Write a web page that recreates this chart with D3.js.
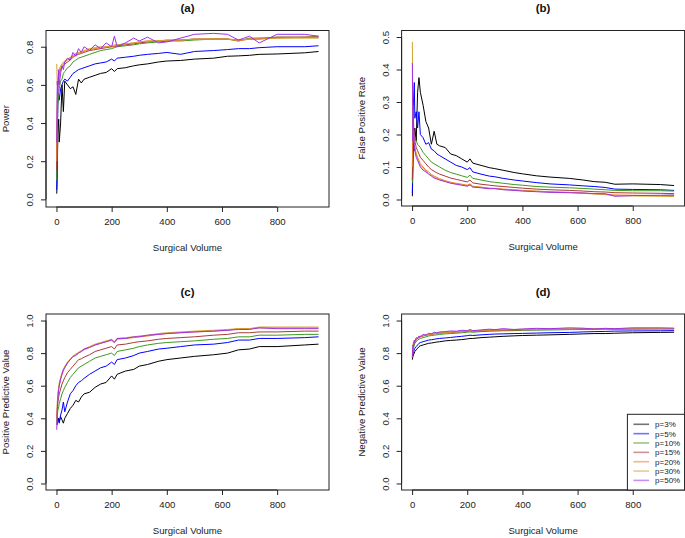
<!DOCTYPE html>
<html>
<head>
<meta charset="utf-8">
<script src="https://cdn.jsdelivr.net/npm/d3@7/dist/d3.min.js"></script>
<style>
html,body{margin:0;padding:0;background:#fff;}
svg{display:block;font-family:"Liberation Sans",Arial,sans-serif;}
</style>
</head>
<body>
<svg id="chart" width="685" height="538"></svg>
<script>
const prevalence = ["p=3%","p=5%","p=10%","p=15%","p=20%","p=30%","p=50%"];
const seriesColors = ["#000000","#0000FF","#3C9A1E","#A83A3A","#F07828","#D4A030","#A030E8"];
const volume = [1,3,5,8,10,15,20,25,30,40,50,60,70,80,90,100,120,140,160,180,200,210,220,250,280,300,330,370,400,450,500,570,620,660,700,735,800,900,950];
const xTicks = [0,200,400,600,800];

const power = [
 [0.03,0.15,0.35,0.42,0.30,0.40,0.60,0.46,0.62,0.60,0.58,0.59,0.55,0.63,0.61,0.63,0.64,0.65,0.66,0.665,0.685,0.67,0.685,0.69,0.70,0.705,0.71,0.72,0.725,0.728,0.735,0.74,0.75,0.752,0.755,0.76,0.762,0.768,0.775],
 [0.05,0.30,0.50,0.55,0.52,0.58,0.60,0.62,0.63,0.62,0.64,0.66,0.67,0.68,0.685,0.69,0.70,0.71,0.715,0.72,0.735,0.725,0.74,0.745,0.75,0.755,0.76,0.765,0.77,0.76,0.775,0.78,0.785,0.79,0.79,0.795,0.80,0.80,0.805],
 [0.10,0.40,0.50,0.55,0.58,0.62,0.63,0.66,0.67,0.69,0.70,0.72,0.73,0.74,0.745,0.75,0.76,0.77,0.78,0.785,0.79,0.795,0.80,0.805,0.81,0.815,0.82,0.825,0.83,0.83,0.835,0.84,0.84,0.83,0.845,0.845,0.85,0.85,0.855],
 [0.15,0.50,0.60,0.64,0.66,0.68,0.69,0.70,0.71,0.72,0.73,0.745,0.755,0.76,0.765,0.77,0.78,0.785,0.79,0.795,0.80,0.80,0.805,0.81,0.815,0.82,0.825,0.83,0.83,0.835,0.84,0.84,0.84,0.835,0.84,0.84,0.85,0.85,0.85],
 [0.20,0.55,0.62,0.65,0.67,0.69,0.70,0.71,0.72,0.73,0.74,0.75,0.76,0.765,0.77,0.775,0.785,0.79,0.795,0.80,0.80,0.805,0.81,0.815,0.82,0.825,0.83,0.83,0.835,0.835,0.84,0.84,0.84,0.83,0.84,0.845,0.845,0.85,0.85],
 [0.71,0.60,0.64,0.66,0.68,0.70,0.71,0.72,0.725,0.735,0.745,0.755,0.765,0.77,0.775,0.78,0.79,0.795,0.80,0.80,0.805,0.81,0.81,0.815,0.82,0.825,0.83,0.83,0.835,0.835,0.84,0.84,0.84,0.835,0.84,0.84,0.845,0.845,0.845],
 [0.30,0.62,0.55,0.68,0.60,0.66,0.70,0.68,0.72,0.74,0.73,0.77,0.75,0.79,0.77,0.80,0.78,0.81,0.79,0.82,0.80,0.855,0.80,0.82,0.845,0.83,0.85,0.82,0.825,0.845,0.865,0.87,0.865,0.835,0.855,0.82,0.865,0.865,0.855]
];

const falsePositive = [
 [0.01,0.10,0.20,0.15,0.22,0.18,0.33,0.375,0.33,0.29,0.24,0.22,0.17,0.21,0.17,0.165,0.16,0.14,0.135,0.125,0.115,0.125,0.112,0.105,0.098,0.095,0.09,0.083,0.079,0.073,0.069,0.065,0.06,0.055,0.053,0.047,0.048,0.046,0.043],
 [0.02,0.15,0.30,0.36,0.25,0.27,0.22,0.27,0.20,0.19,0.17,0.175,0.155,0.15,0.14,0.135,0.125,0.115,0.105,0.10,0.092,0.098,0.085,0.078,0.072,0.07,0.065,0.06,0.057,0.052,0.048,0.045,0.042,0.04,0.037,0.032,0.031,0.03,0.028],
 [0.05,0.20,0.21,0.20,0.19,0.18,0.17,0.165,0.16,0.145,0.135,0.125,0.115,0.11,0.105,0.10,0.09,0.083,0.078,0.073,0.068,0.075,0.065,0.06,0.055,0.053,0.05,0.046,0.044,0.04,0.038,0.036,0.034,0.032,0.03,0.028,0.027,0.027,0.026],
 [0.06,0.29,0.22,0.20,0.18,0.16,0.15,0.14,0.13,0.12,0.11,0.10,0.092,0.087,0.082,0.078,0.072,0.066,0.062,0.058,0.054,0.06,0.051,0.047,0.044,0.042,0.04,0.037,0.035,0.032,0.03,0.028,0.026,0.024,0.023,0.021,0.02,0.019,0.018],
 [0.10,0.22,0.20,0.18,0.16,0.14,0.13,0.12,0.11,0.10,0.09,0.085,0.077,0.072,0.068,0.064,0.058,0.053,0.05,0.047,0.044,0.048,0.041,0.038,0.035,0.034,0.032,0.03,0.028,0.026,0.024,0.022,0.02,0.018,0.016,0.014,0.013,0.012,0.012],
 [0.485,0.20,0.21,0.18,0.16,0.14,0.125,0.115,0.105,0.095,0.088,0.08,0.074,0.069,0.065,0.061,0.056,0.051,0.048,0.045,0.042,0.046,0.04,0.037,0.034,0.033,0.031,0.029,0.027,0.025,0.023,0.021,0.019,0.017,0.015,0.012,0.011,0.01,0.009],
 [0.42,0.18,0.25,0.17,0.15,0.13,0.12,0.11,0.10,0.09,0.085,0.078,0.072,0.066,0.063,0.06,0.055,0.05,0.047,0.044,0.041,0.045,0.038,0.036,0.033,0.034,0.03,0.028,0.026,0.024,0.022,0.021,0.02,0.018,0.018,0.01,0.012,0.013,0.014]
];

const ppv = [
 [0.42,0.40,0.38,0.40,0.38,0.41,0.39,0.37,0.40,0.43,0.46,0.48,0.51,0.50,0.53,0.55,0.56,0.59,0.61,0.62,0.66,0.64,0.67,0.69,0.70,0.72,0.73,0.75,0.76,0.77,0.78,0.79,0.80,0.82,0.825,0.84,0.84,0.85,0.855],
 [0.38,0.36,0.40,0.38,0.37,0.42,0.45,0.50,0.44,0.50,0.55,0.57,0.60,0.62,0.63,0.645,0.67,0.69,0.71,0.72,0.745,0.73,0.76,0.77,0.785,0.80,0.81,0.825,0.83,0.84,0.85,0.855,0.865,0.88,0.88,0.89,0.89,0.895,0.90],
 [0.38,0.42,0.45,0.47,0.49,0.52,0.55,0.57,0.59,0.62,0.65,0.67,0.69,0.71,0.72,0.73,0.75,0.77,0.78,0.79,0.80,0.785,0.81,0.82,0.83,0.84,0.85,0.86,0.865,0.87,0.875,0.885,0.89,0.90,0.90,0.91,0.91,0.915,0.915],
 [0.40,0.45,0.50,0.53,0.55,0.58,0.61,0.63,0.65,0.68,0.70,0.72,0.74,0.76,0.765,0.775,0.79,0.81,0.82,0.83,0.84,0.825,0.85,0.855,0.865,0.87,0.875,0.885,0.89,0.895,0.90,0.91,0.915,0.925,0.925,0.93,0.93,0.935,0.935],
 [0.40,0.48,0.54,0.58,0.60,0.64,0.67,0.69,0.71,0.74,0.76,0.78,0.79,0.80,0.81,0.82,0.835,0.85,0.86,0.87,0.88,0.865,0.885,0.89,0.895,0.90,0.905,0.915,0.92,0.925,0.93,0.935,0.94,0.95,0.95,0.955,0.955,0.955,0.955],
 [0.36,0.50,0.55,0.59,0.62,0.65,0.68,0.70,0.72,0.745,0.765,0.78,0.795,0.805,0.815,0.825,0.84,0.855,0.865,0.875,0.885,0.87,0.89,0.895,0.90,0.905,0.91,0.92,0.925,0.93,0.935,0.94,0.945,0.95,0.95,0.96,0.96,0.96,0.96],
 [0.33,0.45,0.52,0.58,0.60,0.64,0.67,0.70,0.71,0.74,0.76,0.78,0.785,0.80,0.81,0.825,0.835,0.85,0.86,0.87,0.88,0.865,0.89,0.89,0.90,0.90,0.91,0.915,0.92,0.925,0.93,0.935,0.94,0.945,0.945,0.955,0.95,0.95,0.95]
];

const npv = [
 [0.76,0.78,0.79,0.80,0.81,0.82,0.83,0.84,0.845,0.85,0.855,0.86,0.862,0.865,0.868,0.87,0.875,0.878,0.88,0.883,0.887,0.89,0.89,0.895,0.898,0.90,0.903,0.906,0.908,0.91,0.912,0.915,0.918,0.92,0.92,0.922,0.925,0.927,0.928],
 [0.77,0.79,0.81,0.82,0.83,0.84,0.85,0.86,0.865,0.87,0.875,0.88,0.882,0.885,0.888,0.89,0.893,0.896,0.90,0.903,0.907,0.91,0.908,0.912,0.915,0.917,0.918,0.92,0.921,0.923,0.925,0.927,0.93,0.932,0.933,0.935,0.936,0.937,0.938],
 [0.78,0.81,0.83,0.85,0.86,0.87,0.88,0.885,0.89,0.895,0.90,0.905,0.908,0.91,0.912,0.915,0.918,0.92,0.922,0.925,0.928,0.93,0.928,0.932,0.934,0.935,0.937,0.938,0.94,0.941,0.942,0.944,0.945,0.946,0.946,0.947,0.947,0.948,0.948],
 [0.77,0.82,0.85,0.86,0.87,0.88,0.89,0.895,0.90,0.905,0.91,0.912,0.915,0.918,0.92,0.922,0.925,0.927,0.929,0.931,0.933,0.935,0.933,0.937,0.939,0.94,0.941,0.942,0.943,0.944,0.945,0.946,0.947,0.947,0.946,0.948,0.95,0.95,0.95],
 [0.78,0.83,0.86,0.87,0.875,0.885,0.893,0.898,0.902,0.907,0.912,0.914,0.917,0.92,0.922,0.924,0.927,0.929,0.931,0.933,0.935,0.937,0.935,0.939,0.941,0.942,0.943,0.944,0.945,0.946,0.947,0.948,0.949,0.948,0.947,0.949,0.951,0.951,0.951],
 [0.79,0.84,0.865,0.875,0.88,0.888,0.895,0.90,0.904,0.909,0.913,0.916,0.919,0.921,0.923,0.925,0.928,0.93,0.932,0.934,0.936,0.938,0.936,0.94,0.942,0.943,0.944,0.945,0.946,0.947,0.948,0.949,0.95,0.95,0.948,0.95,0.952,0.952,0.952],
 [0.78,0.85,0.84,0.88,0.87,0.895,0.89,0.905,0.90,0.915,0.91,0.922,0.918,0.928,0.925,0.93,0.932,0.936,0.934,0.94,0.937,0.945,0.938,0.942,0.947,0.944,0.95,0.945,0.948,0.952,0.95,0.955,0.953,0.948,0.952,0.95,0.955,0.955,0.953]
];

const powerTicks = [0,0.2,0.4,0.6,0.8];
const fprTicks = [0,0.1,0.2,0.3,0.4,0.5];
const pvTicks = [0,0.2,0.4,0.6,0.8,1.0];

const svg = d3.select("#chart");
const FS = 9.6;

const panels = [
  {title:"(a)", ylab:"Power", data:power, ticks:powerTicks, ydom:[-0.04,0.885], left:46, top:30.5, bottom:207},
  {title:"(b)", ylab:"False Positive Rate", data:falsePositive, ticks:fprTicks, ydom:[-0.02,0.52], left:401.6, top:30.5, bottom:206},
  {title:"(c)", ylab:"Positive Predictive Value", data:ppv, ticks:pvTicks, ydom:[-0.04,1.04], left:46, top:314, bottom:490},
  {title:"(d)", ylab:"Negative Predictive Value", data:npv, ticks:pvTicks, ydom:[-0.04,1.04], left:401.6, top:314, bottom:490, legend:true}
];
const W = 283;

panels.forEach((p,pi)=>{
  const x = d3.scaleLinear().domain([-38,988]).range([p.left, p.left+W]);
  const y = d3.scaleLinear().domain(p.ydom).range([p.bottom, p.top]);
  const g = svg.append("g");
  const clipId = "clip"+pi;
  svg.append("clipPath").attr("id",clipId).append("rect")
    .attr("x",p.left).attr("y",p.top).attr("width",W).attr("height",p.bottom-p.top);

  const line = d3.line().x((d,i)=>x(volume[i])).y(d=>y(d));
  const lg = g.append("g").attr("clip-path",`url(#${clipId})`);
  p.data.forEach((s,si)=>{
    lg.append("path").attr("d",line(s)).attr("fill","none")
      .attr("stroke",seriesColors[si]).attr("stroke-width",1).attr("stroke-linejoin","round");
  });

  // box
  g.append("rect").attr("x",p.left).attr("y",p.top).attr("width",W).attr("height",p.bottom-p.top)
    .attr("fill","none").attr("stroke","#222").attr("stroke-width",1);

  // x axis
  const xa = d3.axisBottom(x).tickValues(xTicks).tickSize(5).tickPadding(6).tickFormat(d3.format("d"));
  const xg = g.append("g").attr("transform",`translate(0,${p.bottom})`).call(xa);
  xg.select(".domain").attr("d",`M${x(xTicks[0])},0H${x(xTicks[xTicks.length-1])}`).attr("stroke","#222");
  xg.selectAll(".tick line").attr("stroke","#222");
  xg.selectAll(".tick text").attr("font-size",FS).attr("fill","#222").attr("font-family","Liberation Sans, Arial, sans-serif");

  // y axis
  const ya = d3.axisLeft(y).tickValues(p.ticks).tickSize(5).tickFormat(d3.format(".1f"));
  const yg = g.append("g").attr("transform",`translate(${p.left},0)`).call(ya);
  yg.select(".domain").attr("d",`M0,${y(p.ticks[0])}V${y(p.ticks[p.ticks.length-1])}`).attr("stroke","#222");
  yg.selectAll(".tick line").attr("stroke","#222");
  yg.selectAll(".tick text")
    .attr("font-size",FS).attr("fill","#222").attr("font-family","Liberation Sans, Arial, sans-serif")
    .attr("x",null).attr("dy",null).attr("text-anchor","middle")
    .attr("transform","translate(-13,0) rotate(-90)");

  // titles
  svg.append("text").attr("x",p.left+W/2).attr("y",p.top-18.5).attr("text-anchor","middle")
    .attr("font-size",11.5).attr("font-weight","bold").attr("fill","#111").text(p.title);
  svg.append("text").attr("x",p.left+W/2).attr("y",p.bottom+43.5).attr("text-anchor","middle")
    .attr("font-size",FS).attr("fill","#222").text("Surgical Volume");
  svg.append("text").attr("transform",`translate(${p.left-37},${(p.top+p.bottom)/2}) rotate(-90)`)
    .attr("text-anchor","middle").attr("font-size",FS).attr("fill","#222").text(p.ylab);

  if(p.legend){
    const lx = p.left + W - 57.2, ly = 414.3;
    svg.append("rect").attr("x",lx).attr("y",ly).attr("width",p.left+W-lx).attr("height",p.bottom-ly)
      .attr("fill","#fff").attr("stroke","#222").attr("stroke-width",1);
    prevalence.forEach((name,i)=>{
      const yy = ly + 10 + i*9.35;
      svg.append("line").attr("x1",lx+6).attr("x2",lx+21.7).attr("y1",yy).attr("y2",yy)
        .attr("stroke",seriesColors[i]).attr("stroke-opacity",0.55).attr("stroke-width",1.6);
      svg.append("text").attr("x",lx+27.7).attr("y",yy+2.9).attr("font-size",8).attr("fill","#222").text(name);
    });
  }
});
</script>
</body>
</html>
